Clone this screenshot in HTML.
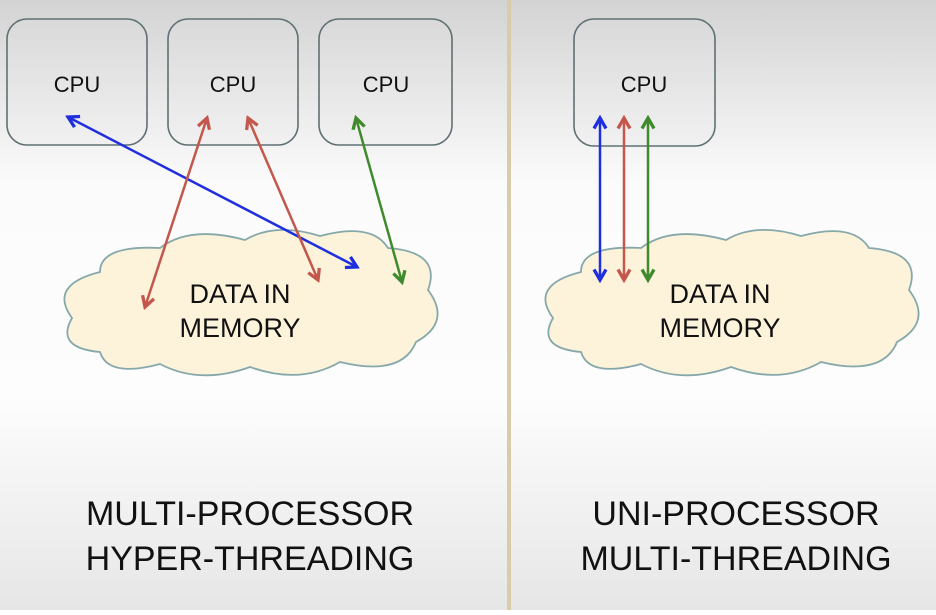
<!DOCTYPE html>
<html><head><meta charset="utf-8"><style>
html,body{margin:0;padding:0}
body{width:936px;height:610px;overflow:hidden;font-family:"Liberation Sans",sans-serif}
</style></head><body>
<svg width="936" height="610" viewBox="0 0 936 610" xmlns="http://www.w3.org/2000/svg">
<defs>
<linearGradient id="bg" x1="0" y1="0" x2="0" y2="1">
<stop offset="0" stop-color="#d3d3d3"/>
<stop offset="0.3" stop-color="#fbfbfb"/>
<stop offset="0.65" stop-color="#fdfdfd"/>
<stop offset="1" stop-color="#e6e6e6"/>
</linearGradient>
<linearGradient id="box" x1="0" y1="0" x2="0" y2="1">
<stop offset="0" stop-color="#d9d9d9"/>
<stop offset="1" stop-color="#f1f1f1"/>
</linearGradient>
<marker id="ab" viewBox="0 0 10 10" refX="8" refY="5" markerWidth="6" markerHeight="6" orient="auto-start-reverse"><path d="M1 1 L8 5 L1 9" fill="none" stroke="#1f2fe0" stroke-width="2.2"/></marker>
<marker id="ar" viewBox="0 0 10 10" refX="8" refY="5" markerWidth="6" markerHeight="6" orient="auto-start-reverse"><path d="M1 1 L8 5 L1 9" fill="none" stroke="#c4574c" stroke-width="2.2"/></marker>
<marker id="ag" viewBox="0 0 10 10" refX="8" refY="5" markerWidth="6" markerHeight="6" orient="auto-start-reverse"><path d="M1 1 L8 5 L1 9" fill="none" stroke="#3f8a2c" stroke-width="2.2"/></marker>
<path id="cloud" d="M100 352 Q55 348 72 318 Q48 285 100 272 Q100 245 160 248 Q190 225 245 240 Q275 222 320 236 Q372 222 388 248 Q442 252 428 290 Q452 322 416 342 Q402 377 340 362 Q300 385 250 367 Q200 385 160 364 Q108 378 100 352 Z"/>
</defs>
<rect width="936" height="610" fill="url(#bg)"/>
<rect x="507" y="0" width="4" height="610" fill="#d8ccaa"/>
<g fill="url(#box)" stroke="#5f7174" stroke-width="1.6">
<rect x="7" y="19" width="140" height="126" rx="20"/>
<rect x="168" y="19" width="130" height="126" rx="20"/>
<rect x="319" y="19" width="133" height="126" rx="20"/>
<rect x="574" y="19" width="141" height="127" rx="20"/>
</g>
<use href="#cloud" fill="#fcf3da" stroke="#86a8ab" stroke-width="1.8"/>
<use href="#cloud" transform="translate(481,0)" fill="#fcf3da" stroke="#86a8ab" stroke-width="1.8"/>
<g font-size="22" fill="#111" text-anchor="middle">
<text x="77" y="92">CPU</text>
<text x="233" y="92">CPU</text>
<text x="386" y="92">CPU</text>
<text x="644" y="92">CPU</text>
</g>
<g font-size="27" fill="#111" text-anchor="middle">
<text x="240" y="303">DATA IN</text>
<text x="240" y="337">MEMORY</text>
<text x="720" y="303">DATA IN</text>
<text x="720" y="337">MEMORY</text>
</g>
<g stroke-width="2.5" fill="none">
<line x1="68" y1="117" x2="357" y2="267" stroke="#1f2fe0" marker-start="url(#ab)" marker-end="url(#ab)"/>
<line x1="207" y1="118" x2="145" y2="307" stroke="#c4574c" marker-start="url(#ar)" marker-end="url(#ar)"/>
<line x1="248" y1="118" x2="318" y2="280" stroke="#c4574c" marker-start="url(#ar)" marker-end="url(#ar)"/>
<line x1="356" y1="118" x2="402" y2="282" stroke="#3f8a2c" marker-start="url(#ag)" marker-end="url(#ag)"/>
<line x1="600" y1="118" x2="600" y2="280" stroke="#1f2fe0" marker-start="url(#ab)" marker-end="url(#ab)"/>
<line x1="624" y1="118" x2="624" y2="280" stroke="#c4574c" marker-start="url(#ar)" marker-end="url(#ar)"/>
<line x1="648" y1="118" x2="648" y2="280" stroke="#3f8a2c" marker-start="url(#ag)" marker-end="url(#ag)"/>
</g>
<g font-size="34" fill="#111" text-anchor="middle">
<text x="250" y="525">MULTI-PROCESSOR</text>
<text x="250" y="570">HYPER-THREADING</text>
<text x="736" y="525">UNI-PROCESSOR</text>
<text x="736" y="570">MULTI-THREADING</text>
</g>
</svg>
</body></html>
